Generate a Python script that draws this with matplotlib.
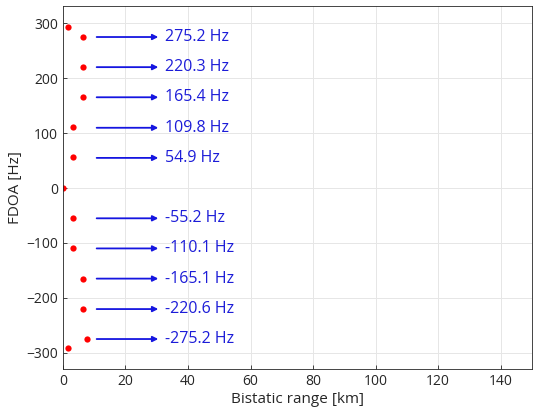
import numpy as np
import matplotlib.pyplot as plt

plt.rcParams['font.family'] = ['Open Sans', 'DejaVu Sans']

# target points (bistatic range [km], FDOA [Hz])
rng_km = [1.6, 6.3, 6.3, 6.3, 3.2, 3.2, 0.0, 3.2, 3.2, 6.3, 6.3, 7.7, 1.6]
fdoa_hz = [293, 276, 221, 166, 111, 56, 0, -55, -110, -165, -220, -275, -292]

# annotated FDOA values
label_vals = [275.2, 220.3, 165.4, 109.8, 54.9, -55.2, -110.1, -165.1, -220.6, -275.2]
arrow_start = 10.8
arrow_end = 30.5

fig = plt.figure(figsize=(5.33, 4.18), dpi=100)
ax = fig.add_axes([0.118, 0.117, 0.880, 0.869])

ax.plot(rng_km, fdoa_hz, 'o', color='red', markersize=4.5, markeredgewidth=0)

for v in label_vals:
    ax.annotate('', xy=(arrow_end, v), xytext=(arrow_start, v),
                arrowprops=dict(arrowstyle='-|>', color='#1515e0', lw=1.3,
                                mutation_scale=8, shrinkA=0, shrinkB=0))
    ax.text(arrow_end + 2.3, v, f'{v:.1f} Hz', color='#1c1cd8', fontsize=11.5,
            va='center', ha='left')

ax.set_xlim(0, 150)
ax.set_ylim(-330, 332)
ax.set_xticks(np.arange(0, 141, 20))
ax.set_yticks(np.arange(-300, 301, 100))
ax.grid(True, color='#e6e6e6', linewidth=0.7)
ax.set_axisbelow(True)
ax.tick_params(direction='in', length=3, labelsize=10, colors='#262626', width=0.6)
for s in ax.spines.values():
    s.set_color('#262626')
    s.set_linewidth(0.6)
ax.set_xlabel('Bistatic range [km]', fontsize=11, color='#262626', labelpad=2)
ax.set_ylabel('FDOA [Hz]', fontsize=11, color='#262626', labelpad=2)

fig.savefig('out.png', dpi=100)
